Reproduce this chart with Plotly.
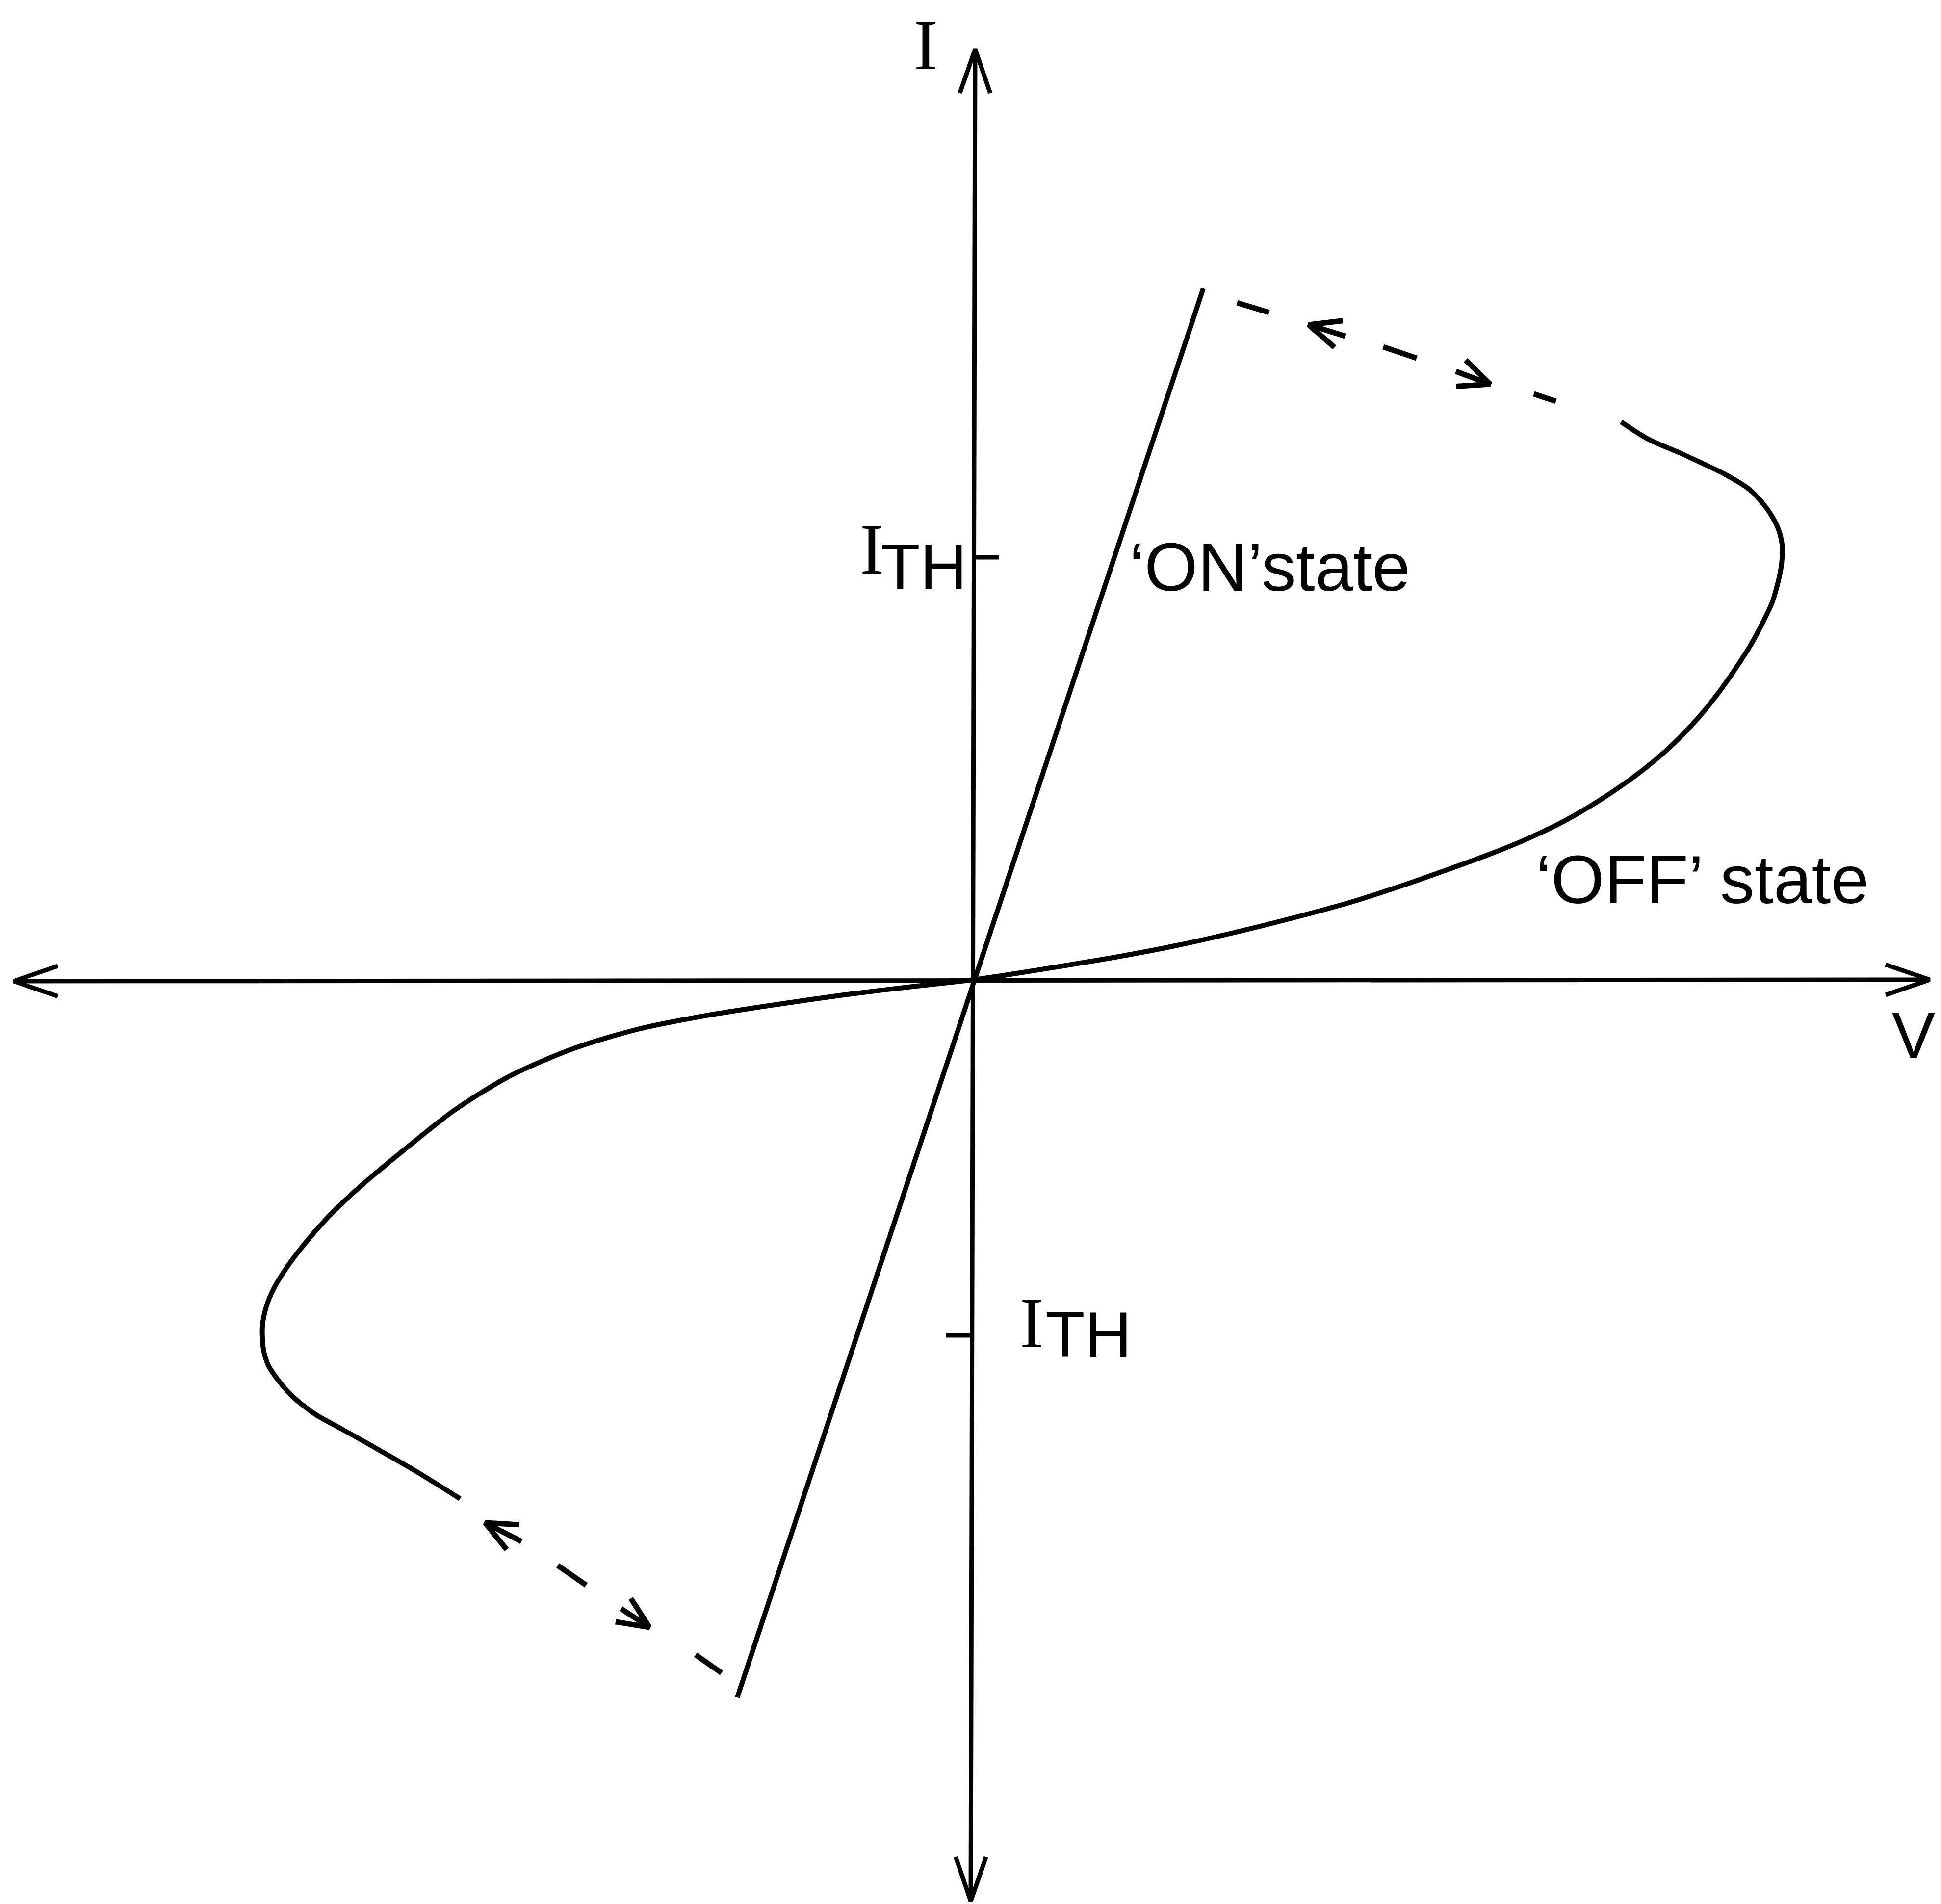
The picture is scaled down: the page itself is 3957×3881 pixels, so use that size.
import numpy as np
import plotly.graph_objects as go

# Threshold-switch I-V characteristic, arbitrary units (V along x, I along y)

# 'OFF' state branch, first quadrant (origin -> upper switching point)
off_pos_v = [0.02, 0.75, 1.75, 2.95, 4.15, 5.35, 6.55, 7.65, 8.65, 9.65, 10.55,
             11.35, 12.05, 12.70, 13.30, 13.85, 14.35, 14.80, 15.20, 15.55, 15.85,
             16.08, 16.27, 16.39, 16.47, 16.48, 16.41, 16.29, 16.12, 15.82, 15.32,
             14.48, 13.75, 13.20]
off_pos_i = [0.00, 0.11, 0.27, 0.47, 0.70, 0.97, 1.27, 1.57, 1.89, 2.24, 2.57,
             2.90, 3.24, 3.62, 4.02, 4.44, 4.89, 5.37, 5.87, 6.37, 6.84,
             7.27, 7.67, 8.07, 8.47, 8.87, 9.17, 9.42, 9.67, 9.99, 10.30,
             10.70, 11.02, 11.37]

# 'OFF' state branch, third quadrant (origin -> lower switching point)
off_neg_v = [0.02, -1.25, -2.65, -4.05, -5.45, -6.85, -8.15, -9.45, -10.60, -11.65,
             -12.35, -12.85, -13.22, -13.62, -13.98, -14.25, -14.42, -14.50, -14.48,
             -14.38, -14.18, -13.88, -13.42, -12.88, -12.22, -11.35, -10.47]
off_neg_i = [0.00, -0.14, -0.31, -0.51, -0.73, -1.01, -1.40, -1.96, -2.67, -3.50,
             -4.08, -4.53, -4.90, -5.36, -5.83, -6.26, -6.66, -7.06, -7.53,
             -7.86, -8.16, -8.50, -8.86, -9.16, -9.53, -10.03, -10.58]

# 'ON' state line
on_v = [-4.82, 4.68]
on_i = [-14.63, 14.09]

# threshold currents
ith_pos = 8.61
ith_neg = -7.25

# axes extents
v_axis_v = [-19.57, 19.49]
v_axis_i = [-0.03, 0.00]
i_axis_v = [-0.06, 0.03]
i_axis_i = [-18.78, 18.97]

# switching transitions: dash pieces and arrows (tail, tip)
up_dash_v = [[5.37, 6.02], [8.35, 9.03], [11.42, 11.87]]
up_dash_i = [[13.80, 13.60], [12.90, 12.67], [11.94, 11.79]]
up_arrow_v = [[7.57, 6.83], [9.83, 10.53]]
up_arrow_i = [[13.12, 13.35], [12.40, 12.14]]

lo_dash_v = [[-8.48, -7.90], [-5.67, -5.14]]
lo_dash_i = [[-11.94, -12.34], [-13.76, -14.13]]
lo_arrow_v = [[-9.22, -9.96], [-7.19, -6.61]]
lo_arrow_i = [[-11.45, -11.07], [-12.82, -13.20]]

BLACK = "#000000"
LW = 10
SANS = "Liberation Sans, Arial, sans-serif"
SERIF = "Liberation Serif, Times New Roman, serif"


def arms(tail, tip, length, half_angle):
    """Open V arrowhead at tip, pointing away from tail: end1 -> tip -> end2."""
    tail = np.asarray(tail, float)
    tip = np.asarray(tip, float)
    d = tail - tip
    d = d / np.hypot(*d)
    ends = []
    for s in (1, -1):
        a = np.radians(half_angle) * s
        r = np.array([d[0] * np.cos(a) - d[1] * np.sin(a),
                      d[0] * np.sin(a) + d[1] * np.cos(a)])
        ends.append(tip + length * r)
    return ([ends[0][0], tip[0], ends[1][0]],
            [ends[0][1], tip[1], ends[1][1]])


fig = go.Figure()


def add_line(x, y, width=LW, shape="linear"):
    fig.add_trace(go.Scatter(x=x, y=y, mode="lines",
                             line=dict(color=BLACK, width=width, shape=shape,
                                       smoothing=0.8),
                             hoverinfo="skip", showlegend=False))


# axes with arrowheads at both ends
add_line(v_axis_v, v_axis_i, width=9)
add_line(i_axis_v, i_axis_i, width=9)
for tail, tip in [((v_axis_v[1], v_axis_i[1]), (v_axis_v[0], v_axis_i[0])),
                  ((v_axis_v[0], v_axis_i[0]), (v_axis_v[1], v_axis_i[1])),
                  ((i_axis_v[0], i_axis_i[0]), (i_axis_v[1], i_axis_i[1])),
                  ((i_axis_v[1], i_axis_i[1]), (i_axis_v[0], i_axis_i[0]))]:
    ax_, ay_ = arms(tail, tip, 0.95, 19)
    add_line(ax_, ay_, width=9)

# threshold ticks
add_line([0.0, 0.52], [ith_pos, ith_pos], width=9)
add_line([-0.57, 0.0], [ith_neg, ith_neg], width=9)

# characteristic curves
add_line(off_pos_v, off_pos_i, shape="spline")
add_line(off_neg_v, off_neg_i, shape="spline")
add_line(on_v, on_i)

# dashed switching paths
for dv, di in [(up_dash_v, up_dash_i), (lo_dash_v, lo_dash_i)]:
    xs, ys = [], []
    for a, b in zip(dv, di):
        xs += a + [None]
        ys += b + [None]
    add_line(xs, ys, width=11)

for av, ai in [(up_arrow_v, up_arrow_i), (lo_arrow_v, lo_arrow_i)]:
    for a, b in zip(av, ai):
        add_line(a, b, width=11)
        hx, hy = arms((a[0], b[0]), (a[1], b[1]), 0.70, 24)
        add_line(hx, hy, width=11)


# text labels
def label(x, y, text, family=SANS, size=140, xanchor="center"):
    fig.add_annotation(x=x, y=y, xref="x", yref="y", text=text, showarrow=False,
                       xanchor=xanchor, yanchor="middle",
                       font=dict(family=family, size=size, color=BLACK))


label(-0.98, 19.05, "I", family=SERIF, size=146)
label(18.70, -1.13, "V", size=132, xanchor="left")
label(-2.08, 8.77, "I", family=SERIF, size=146)
label(-1.02, 8.42, "TH", size=132)
label(1.18, -7.00, "I", family=SERIF, size=146)
label(2.34, -7.23, "TH", size=132)
label(3.15, 8.42, "\u2018ON\u2019state", xanchor="left")
label(11.44, 2.05, "\u2018OFF\u2019 state", xanchor="left")

W, H = 3957, 3881
X0, Y0 = 1985, 1997  # pixel position of the origin
fig.update_layout(
    width=W, height=H,
    margin=dict(l=0, r=0, t=0, b=0, pad=0),
    paper_bgcolor="white", plot_bgcolor="white",
    xaxis=dict(range=[-X0 / 100, (W - X0) / 100], visible=False, fixedrange=True),
    yaxis=dict(range=[-(H - Y0) / 100, Y0 / 100], visible=False, fixedrange=True),
    showlegend=False,
)

fig.write_html("out.html")
